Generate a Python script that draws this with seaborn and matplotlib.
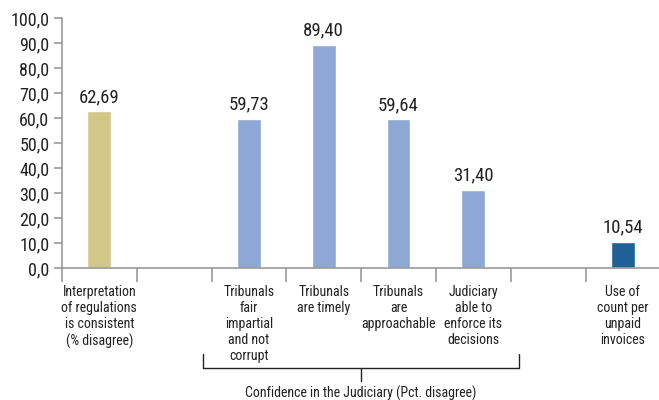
import pandas as pd
import matplotlib.pyplot as plt
import matplotlib.transforms as mtransforms
from matplotlib.ticker import FuncFormatter, FixedLocator
from matplotlib import font_manager
import seaborn as sns

# slots along the x axis (two empty gap slots)
slots = ["interp", "gap1", "fair", "timely", "approach", "enforce", "gap2", "invoices"]
labels = [
    "Interpretation\nof regulations\nis consistent\n(% disagree)",
    "",
    "Tribunals\nfair\nimpartial\nand not\ncorrupt",
    "Tribunals\nare timely",
    "Tribunals\nare\napproachable",
    "Judiciary\nable to\nenforce its\ndecisions",
    "",
    "Use of\ncount per\nunpaid\ninvoices",
]
bar_slots = ["interp", "fair", "timely", "approach", "enforce", "invoices"]
values = [62.69, 59.73, 89.40, 59.64, 31.40, 10.54]
groups = ["Regulation", "Judiciary", "Judiciary", "Judiciary", "Judiciary", "Invoices"]
palette = {"Regulation": "#D1C787", "Judiciary": "#8EA8D6", "Invoices": "#1D6295"}

df = pd.DataFrame({"slot": bar_slots, "value": values, "group": groups})

sns.set_style("white")
names = {f.name for f in font_manager.fontManager.ttflist}
fams = [f for f in ["Roboto Condensed", "Liberation Sans Narrow", "Roboto"] if f in names]
plt.rcParams["font.family"] = fams + ["DejaVu Sans"]
condensed = fams[0] != "Roboto"
num_size = 13 if condensed else 12
lab_size = 10 if condensed else 8.6

fig = plt.figure(figsize=(6.59, 4.0), dpi=100)
ax = fig.add_axes([0.094, 0.33, 0.908, 0.625])

sns.barplot(data=df, x="slot", y="value", hue="group", order=slots,
            palette=palette, width=0.32, dodge=False, legend=False,
            saturation=1, ax=ax)

ax.set_xlim(-0.5, len(slots) - 0.5)
ax.set_ylim(0, 100)
ax.set_yticks(range(0, 101, 10))
ax.yaxis.set_major_formatter(FuncFormatter(lambda v, p: f"{v:.1f}".replace(".", ",")))
ax.tick_params(axis="y", left=True, length=6, width=1.2, color="#999999",
               labelsize=num_size, pad=3, labelcolor="#222222")

ax.set_xticks(range(len(slots)))
ax.set_xticklabels(labels, fontsize=lab_size, color="#222222", linespacing=1.2, va="top")
ax.tick_params(axis="x", which="major", bottom=True, length=0, pad=12)
ax.xaxis.set_minor_locator(FixedLocator([i - 0.5 for i in range(len(slots))]))
ax.tick_params(axis="x", which="minor", bottom=True, length=10, color="#999999",
               width=1.2, direction="out")

ax.set_xlabel("")
ax.set_ylabel("")
for side in ["top", "right"]:
    ax.spines[side].set_visible(False)
for side in ["left", "bottom"]:
    ax.spines[side].set_color("#999999")
    ax.spines[side].set_linewidth(1.2)

# value labels above bars
for s, v in zip(bar_slots, values):
    ax.text(slots.index(s), v + 2, f"{v:.2f}".replace(".", ","), ha="center",
            va="bottom", fontsize=num_size + 0.5, color="#222222")

# bracket for the judiciary group
trans = mtransforms.blended_transform_factory(ax.transData, ax.transAxes)
x0, x1 = 1.38, 5.61
ax.plot([x0, x0, x1, x1], [-0.344, -0.40, -0.40, -0.344], color="#222222",
        lw=1, transform=trans, clip_on=False)
ax.plot([(x0 + x1) / 2] * 2, [-0.40, -0.452], color="#222222", lw=1,
        transform=trans, clip_on=False)
ax.text((x0 + x1) / 2, -0.47, "Confidence in the Judiciary (Pct. disagree)",
        ha="center", va="top", fontsize=lab_size, color="#222222", transform=trans)

fig.savefig("out.png", dpi=100)
